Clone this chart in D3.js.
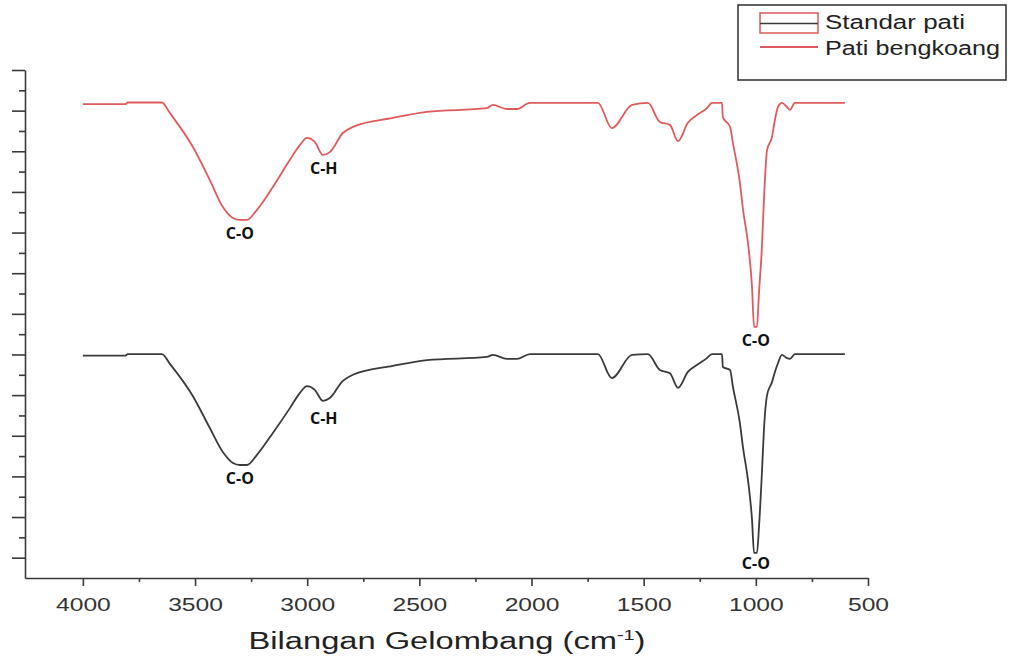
<!DOCTYPE html>
<html>
<head>
<meta charset="utf-8">
<script src="https://d3js.org/d3.v7.min.js"></script>
<style>
  body { margin: 0; background: #fff; }
  text { font-family: "Liberation Sans", Arial, sans-serif; }
  text.band { font-family: "Open Sans", "Noto Sans", sans-serif; font-weight: 700; }
</style>
</head>
<body>
<script>
// FTIR spectra (transmittance in arbitrary offset units)
var wavenumbers = [4000, 3810, 3800, 3648, 3612, 3510, 3434, 3376, 3331, 3300, 3269, 3224, 3153, 3077,
  3033, 3001, 2966, 2930, 2899, 2841, 2796, 2618, 2466, 2199, 2172, 2110, 2065, 2007, 1704, 1642,
  1552, 1481, 1428, 1383, 1347, 1303, 1263, 1218, 1196, 1151, 1147, 1115, 1102, 1071, 1057, 1035,
  1017, 1008, 995, 986, 973, 964, 950, 928, 915, 901, 884, 861, 848, 826, 603];

var patiBengkoang = [116.6, 116.6, 117.0, 117.0, 114.4, 106.1, 97.9, 91.3, 88.6, 88.1, 88.1, 90.6, 96.2, 102.9,
  106.5, 108.3, 107.3, 104.1, 104.8, 109.5, 111.0, 113.2, 114.7, 115.6, 116.4, 115.4, 115.4, 116.9, 116.9, 110.7,
  116.4, 116.9, 112.2, 111.5, 107.5, 112.0, 113.9, 115.6, 116.9, 116.9, 113.4, 111.0, 107.0, 97.2, 90.6, 82.4,
  71.6, 61.8, 61.8, 70.1, 81.4, 93.0, 105.3, 108.5, 112.7, 115.9, 116.9, 115.9, 115.2, 116.9, 116.9];

var standarPati = [54.7, 54.7, 55.1, 55.1, 52.7, 44.8, 36.9, 31.0, 28.3, 27.8, 27.8, 30.3, 35.7, 41.8,
  45.5, 47.2, 46.3, 43.6, 44.3, 48.5, 50.0, 52.2, 53.6, 54.4, 54.9, 53.9, 53.9, 55.1, 55.1, 49.2,
  54.9, 55.1, 51.2, 50.4, 46.8, 50.7, 52.4, 54.1, 55.1, 55.1, 51.9, 51.2, 47.0, 38.1, 32.0, 24.1,
  14.3, 6.2, 6.2, 12.5, 25.8, 36.4, 45.0, 48.2, 50.7, 52.9, 54.9, 54.1, 53.9, 55.1, 55.1];

var xTicks = [4000, 3500, 3000, 2500, 2000, 1500, 1000, 500];
var xMinorTicks = [3750, 3250, 2750, 2250, 1750, 1250, 750];
var seriesNames = ["Standar pati", "Pati bengkoang"];

// band assignments
var bandLabels = ["C-O", "C-H", "C-O"];
var bandWavenumbers = [3300, 2926, 1000];
var bandRed = [88.1, 104.1, 61.8];
var bandBlack = [27.8, 42.6, 6.8];

var width = 1017, height = 667;
var red = "#e05a5c", dark = "#3a3a3a";

var svg = d3.select("body").append("svg")
  .attr("width", width)
  .attr("height", height);

var x = d3.scaleLinear().domain([4258, 500]).range([25, 868]);
var y = d3.scaleLinear().domain([0, 125]).range([578, 70]);

// y axis: only tick marks, no labels
var yMajor = d3.range(5, 126, 10);
var yMinor = d3.range(10, 121, 10);

svg.append("g")
  .attr("transform", "translate(25,0)")
  .call(d3.axisLeft(y).tickValues(yMinor).tickSize(6).tickFormat("").tickSizeOuter(0))
  .call(function(g) { g.select(".domain").remove(); });

svg.append("g")
  .attr("transform", "translate(25,0)")
  .call(d3.axisLeft(y).tickValues(yMajor).tickSize(13).tickFormat("").tickSizeOuter(0));

// x axis
svg.append("g")
  .attr("transform", "translate(0,578)")
  .call(d3.axisBottom(x).tickValues(xMinorTicks).tickSize(4).tickFormat("").tickSizeOuter(0))
  .call(function(g) { g.select(".domain").remove(); });

var xAxis = svg.append("g")
  .attr("transform", "translate(0,578)")
  .call(d3.axisBottom(x).tickValues(xTicks).tickSize(8).tickPadding(12)
    .tickFormat(d3.format("d")).tickSizeOuter(0));

xAxis.selectAll("text")
  .attr("font-size", 19)
  .attr("fill", "#333")
  .attr("textLength", function(d) { return String(d).length * 13.7; })
  .attr("lengthAdjust", "spacingAndGlyphs");

svg.selectAll(".domain, .tick line")
  .attr("stroke", dark)
  .attr("stroke-width", 1.6);

// spectra
var line = d3.line()
  .x(function(d) { return x(d[0]); })
  .y(function(d) { return y(d[1]); })
  .curve(d3.curveMonotoneX);

svg.append("path")
  .datum(d3.zip(wavenumbers, patiBengkoang))
  .attr("d", line)
  .attr("fill", "none")
  .attr("stroke", red)
  .attr("stroke-width", 1.8);

svg.append("path")
  .datum(d3.zip(wavenumbers, standarPati))
  .attr("d", line)
  .attr("fill", "none")
  .attr("stroke", dark)
  .attr("stroke-width", 1.8);

// band labels under each trough
function addBands(vals) {
  svg.append("g").selectAll("text")
    .data(bandLabels)
    .enter()
    .append("text")
    .attr("class", "band")
    .attr("x", function(d, i) { return x(bandWavenumbers[i]); })
    .attr("y", function(d, i) { return y(vals[i]) + 19; })
    .attr("text-anchor", "middle")
    .attr("font-size", 16)
    .attr("fill", "#111")
    .text(function(d) { return d; });
}
addBands(bandRed);
addBands(bandBlack);

// axis title, stretched wide like the original
var title = svg.append("text")
  .attr("text-anchor", "middle")
  .attr("font-size", 23)
  .attr("fill", "#222");
title.append("tspan").text("Bilangan Gelombang (cm");
title.append("tspan").attr("font-size", 14).attr("dy", -9).text("-1");
title.append("tspan").attr("dy", 9).text(")");
var tw = title.node().getComputedTextLength();
title.attr("transform", "translate(447,649) scale(" + (397 / tw) + ",1)");

// legend
var legend = svg.append("g");
legend.append("rect")
  .attr("x", 738).attr("y", 5)
  .attr("width", 268).attr("height", 75)
  .attr("fill", "#fff")
  .attr("stroke", dark)
  .attr("stroke-width", 1.6);

legend.append("rect")
  .attr("x", 760).attr("y", 13)
  .attr("width", 58).attr("height", 20)
  .attr("fill", "none")
  .attr("stroke", red)
  .attr("stroke-width", 1.5);
legend.append("line")
  .attr("x1", 760).attr("x2", 818)
  .attr("y1", 23.5).attr("y2", 23.5)
  .attr("stroke", dark)
  .attr("stroke-width", 1.5);
legend.append("line")
  .attr("x1", 760).attr("x2", 818)
  .attr("y1", 47).attr("y2", 47)
  .attr("stroke", red)
  .attr("stroke-width", 1.8);

legend.selectAll("text.lab")
  .data(seriesNames)
  .enter()
  .append("text")
  .attr("class", "lab")
  .attr("x", 825)
  .attr("y", function(d, i) { return 29 + i * 26; })
  .attr("font-size", 20)
  .attr("fill", "#222")
  .attr("textLength", function(d, i) { return i == 0 ? 140 : 175; })
  .attr("lengthAdjust", "spacingAndGlyphs")
  .text(function(d) { return d; });
</script>
</body>
</html>
